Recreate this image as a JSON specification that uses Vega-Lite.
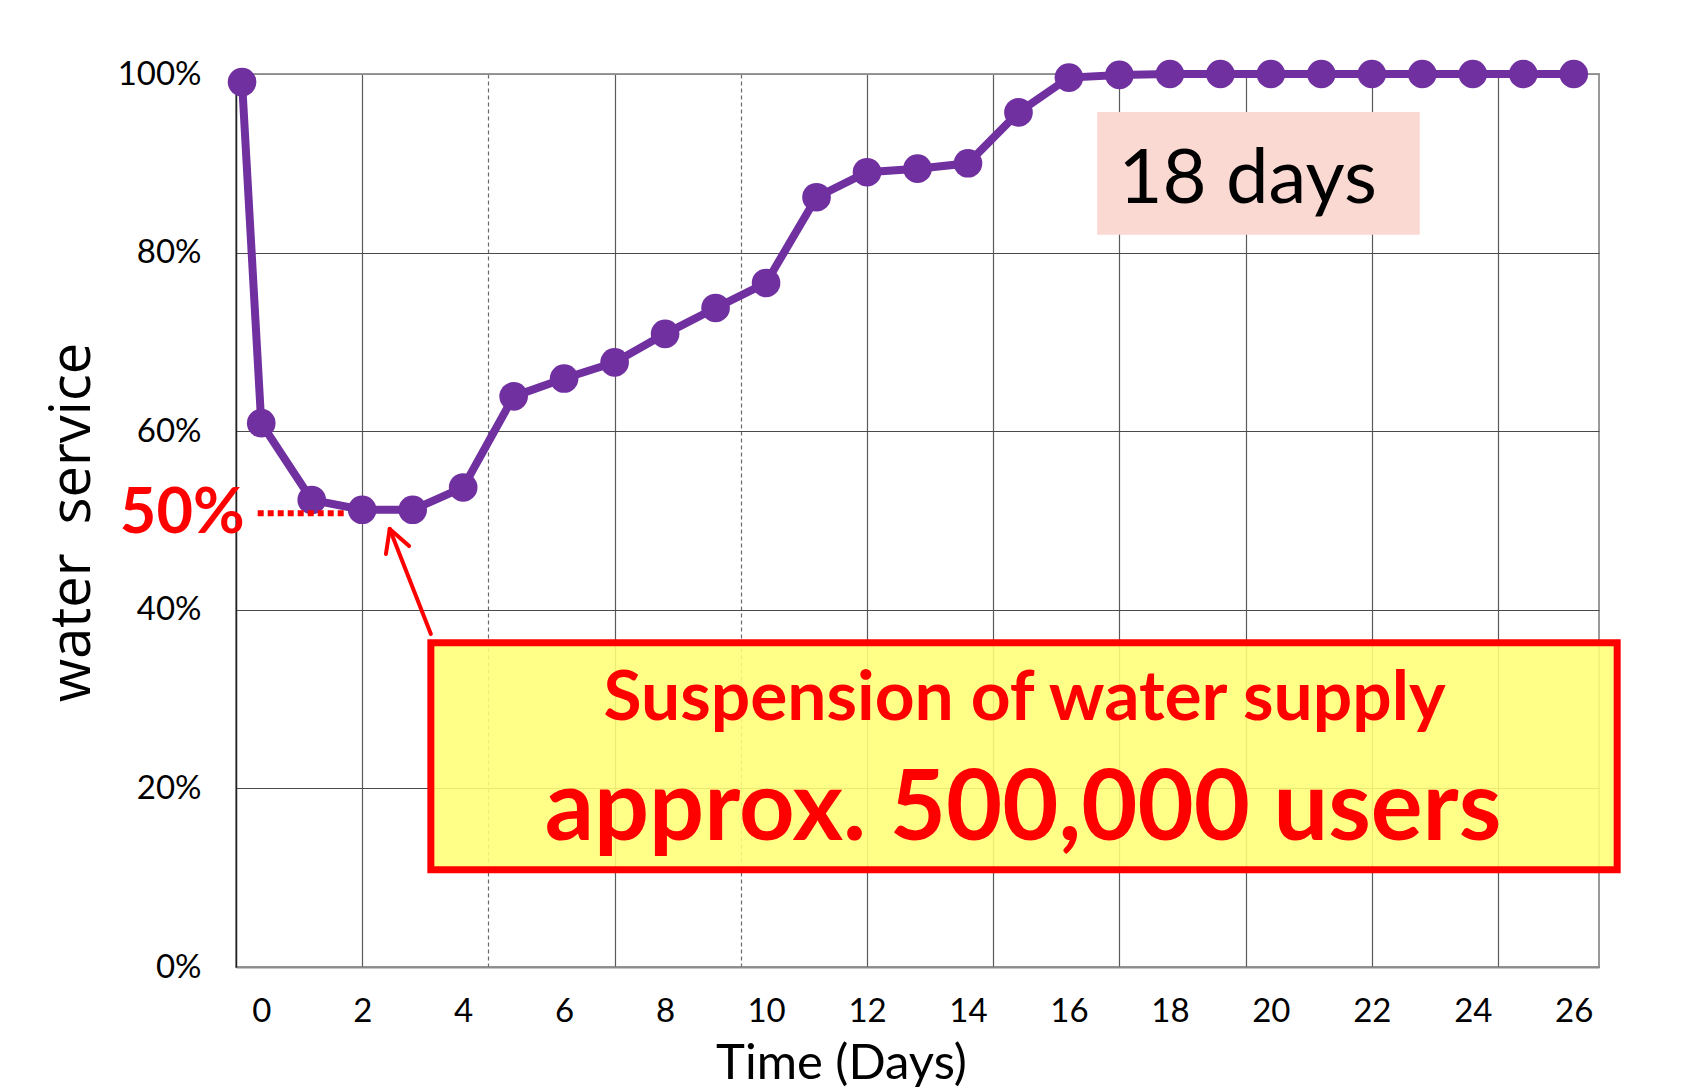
{
  "$schema": "https://vega.github.io/schema/vega-lite/v6.json",
  "width": 1363,
  "height": 893,
  "autosize": {"type": "none"},
  "padding": {"left": 236, "top": 74, "right": 104, "bottom": 121},
  "background": "white",
  "config": {"view": {"stroke": "#9a9a9a", "strokeWidth": 2}},
  "layer": [
    {
      "data": {"values": [
        {"day": -0.38, "service": 99.1},
        {"day": 0, "service": 60.9},
        {"day": 1, "service": 52.3},
        {"day": 2, "service": 51.2},
        {"day": 3, "service": 51.2},
        {"day": 4, "service": 53.7},
        {"day": 5, "service": 63.9},
        {"day": 6, "service": 65.9},
        {"day": 7, "service": 67.7},
        {"day": 8, "service": 70.9},
        {"day": 9, "service": 73.8},
        {"day": 10, "service": 76.6},
        {"day": 11, "service": 86.2},
        {"day": 12, "service": 89.0},
        {"day": 13, "service": 89.4},
        {"day": 14, "service": 90.0},
        {"day": 15, "service": 95.7},
        {"day": 16, "service": 99.6},
        {"day": 17, "service": 99.9},
        {"day": 18, "service": 100},
        {"day": 19, "service": 100},
        {"day": 20, "service": 100},
        {"day": 21, "service": 100},
        {"day": 22, "service": 100},
        {"day": 23, "service": 100},
        {"day": 24, "service": 100},
        {"day": 25, "service": 100},
        {"day": 26, "service": 100}
      ]},
      "mark": {"type": "line", "color": "#7030A0", "strokeWidth": 8, "point": {"filled": true, "size": 820, "color": "#7030A0", "opacity": 1}},
      "encoding": {
        "x": {
          "field": "day", "type": "quantitative",
          "scale": {"domain": [-0.5, 26.5], "nice": false, "zero": false},
          "axis": {
            "title": "Time (Days)",
            "values": [0, 2, 4, 4.5, 6, 7, 8, 9.5, 10, 12, 14, 14.5, 16, 17, 18, 19.5, 20, 22, 24, 24.5, 26],
            "labelExpr": "datum.value % 2 === 0 ? datum.value + '' : ''",
            "grid": true,
            "gridOpacity": {"condition": {"test": "indexof([2, 4.5, 7, 9.5, 12, 14.5, 17, 19.5, 22, 24.5], datum.value) >= 0", "value": 1}, "value": 0},
            "gridDash": {"condition": {"test": "datum.value === 4.5 || datum.value === 9.5", "value": [4, 3]}, "value": []},
            "gridColor": {"condition": {"test": "datum.value === 4.5 || datum.value === 9.5", "value": "#6a6a6a"}, "value": "#5a5a5a"},
            "gridWidth": 1.2,
            "ticks": false,
            "domainColor": "#8c8c8c",
            "domainWidth": 2,
            "labelFont": "Lato",
            "labelFontSize": 33,
            "labelColor": "black",
            "labelPadding": 54,
            "labelBaseline": "alphabetic",
            "labelOverlap": false,
            "labelFlush": false,
            "titleFont": "Lato",
            "titleFontSize": 49,
            "titleFontWeight": "normal",
            "titleColor": "black",
            "titleX": 605,
            "titleY": 111,
            "titleBaseline": "alphabetic",
            "titleAlign": "center"
          }
        },
        "y": {
          "field": "service", "type": "quantitative",
          "scale": {"domain": [0, 100], "nice": false},
          "axis": {
            "title": "water\u00a0 service",
            "values": [0, 20, 40, 60, 80, 100],
            "labelExpr": "datum.value + '%'",
            "grid": true,
            "gridColor": {"condition": {"test": "datum.value === 100", "value": "#8c8c8c"}, "value": "#4a4a4a"},
            "gridWidth": 1.2,
            "ticks": false,
            "domainColor": "#222222",
            "domainWidth": 1.5,
            "labelFont": "Lato",
            "labelFontSize": 33,
            "labelColor": "black",
            "labelPadding": 35,
            "titleFont": "Open Sans",
            "titleFontSize": 56,
            "titleFontWeight": "normal",
            "titleColor": "black",
            "titleX": -147,
            "titleY": 448,
            "titleAngle": 270,
            "titleBaseline": "alphabetic",
            "titleAlign": "center"
          }
        }
      }
    },
    {
      "data": {"values": [{"x1": 16.56, "x2": 22.95, "y1": 82.0, "y2": 95.74}]},
      "mark": {"type": "rect", "fill": "#FBD9D3"},
      "encoding": {
        "x": {"field": "x1", "type": "quantitative"},
        "x2": {"field": "x2"},
        "y": {"field": "y1", "type": "quantitative"},
        "y2": {"field": "y2"}
      }
    },
    {
      "data": {"values": [{"x": 16.98, "y": 85.57, "label": "18 days"}]},
      "mark": {"type": "text", "font": "Lato", "fontSize": 76, "color": "black", "align": "left", "baseline": "alphabetic"},
      "encoding": {
        "x": {"field": "x", "type": "quantitative"},
        "y": {"field": "y", "type": "quantitative"},
        "text": {"field": "label"}
      }
    },
    {
      "data": {"values": [{"x1": 3.36, "x2": 26.86, "y1": 10.9, "y2": 36.3}]},
      "mark": {"type": "rect", "fill": "#ffff78", "fillOpacity": 0.88, "stroke": "#ff0000", "strokeWidth": 7},
      "encoding": {
        "x": {"field": "x1", "type": "quantitative"},
        "x2": {"field": "x2"},
        "y": {"field": "y1", "type": "quantitative"},
        "y2": {"field": "y2"}
      }
    },
    {
      "data": {"values": [
        {"x": 15.12, "y": 27.7, "label": "Suspension of water supply", "size": "small"},
        {"x": 15.09, "y": 14.26, "label": "approx. 500,000 users", "size": "large"}
      ]},
      "mark": {"type": "text", "font": "Lato", "fontWeight": "bold", "color": "#ff0000", "align": "center", "baseline": "alphabetic"},
      "encoding": {
        "x": {"field": "x", "type": "quantitative"},
        "y": {"field": "y", "type": "quantitative"},
        "text": {"field": "label"},
        "size": {"field": "size", "type": "nominal", "scale": {"domain": ["small", "large"], "range": [69.5, 97]}, "legend": null}
      }
    },
    {
      "data": {"values": [{"x1": -0.07, "x2": 1.66, "y": 50.8}]},
      "mark": {"type": "rule", "color": "#ff0000", "strokeWidth": 6, "strokeDash": [6, 4]},
      "encoding": {
        "x": {"field": "x1", "type": "quantitative"},
        "x2": {"field": "x2"},
        "y": {"field": "y", "type": "quantitative"}
      }
    },
    {
      "data": {"values": [{"x": -0.33, "y": 48.6, "label": "50%"}]},
      "mark": {"type": "text", "font": "Lato", "fontWeight": "bold", "fontSize": 63, "color": "#ff0000", "align": "right", "baseline": "alphabetic"},
      "encoding": {
        "x": {"field": "x", "type": "quantitative"},
        "y": {"field": "y", "type": "quantitative"},
        "text": {"field": "label"}
      }
    },
    {
      "data": {"values": [
        {"part": "shaft", "seq": 1, "x": 3.36, "y": 37.3},
        {"part": "shaft", "seq": 2, "x": 2.545, "y": 49.05},
        {"part": "wing1", "seq": 1, "x": 2.47, "y": 46.25},
        {"part": "wing1", "seq": 2, "x": 2.545, "y": 49.05},
        {"part": "wing2", "seq": 1, "x": 2.93, "y": 47.14},
        {"part": "wing2", "seq": 2, "x": 2.545, "y": 49.05}
      ]},
      "mark": {"type": "line", "color": "#ff0000", "strokeWidth": 4, "strokeCap": "round"},
      "encoding": {
        "x": {"field": "x", "type": "quantitative"},
        "y": {"field": "y", "type": "quantitative"},
        "detail": {"field": "part"},
        "order": {"field": "seq"}
      }
    }
  ]
}
